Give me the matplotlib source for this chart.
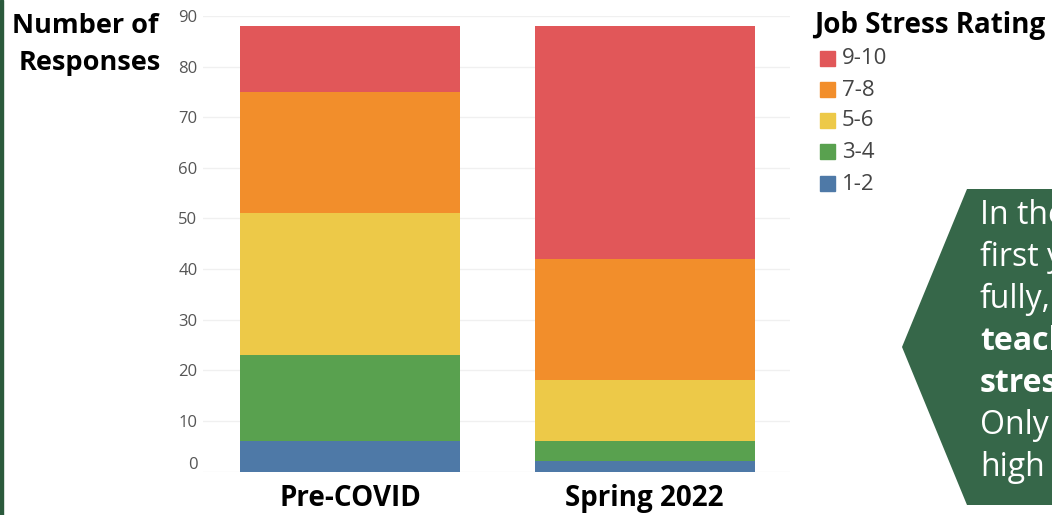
import matplotlib
matplotlib.use("Agg")
import matplotlib.pyplot as plt
from matplotlib.patches import Polygon, Rectangle
from matplotlib.transforms import ScaledTranslation
import numpy as np

categories = ["Pre-COVID", "Spring 2022"]
ratings = ["1-2", "3-4", "5-6", "7-8", "9-10"]
vals_1_2 = [6, 2]
vals_3_4 = [17, 4]
vals_5_6 = [28, 12]
vals_7_8 = [24, 24]
vals_9_10 = [13, 46]
colors = {"1-2": "#4E79A7", "3-4": "#59A14F", "5-6": "#EDC948",
          "7-8": "#F28E2B", "9-10": "#E15759"}
yticks = list(range(0, 100, 10))

series = {"1-2": vals_1_2, "3-4": vals_3_4, "5-6": vals_5_6,
          "7-8": vals_7_8, "9-10": vals_9_10}

W, H = 1052, 515
fig = plt.figure(figsize=(W / 100, H / 100), dpi=100)
fig.patch.set_facecolor("white")

ax = fig.add_axes([203 / W, (H - 471.6) / H, (790 - 203) / W, (471.6 - 16) / H])
x = np.arange(len(categories))
bottom = np.zeros(len(categories))
for r in ratings:
    v = np.array(series[r], dtype=float)
    ax.bar(x, v, bottom=bottom, width=0.747, color=colors[r], zorder=2,
           edgecolor="none")
    bottom += v

ax.set_xlim(-0.4992, 1.494)
ax.set_ylim(0, 90)
ax.set_yticks(yticks)
ax.set_yticklabels([str(t) for t in yticks], fontsize=12, color="#555555",
                   family="Open Sans")
ax.tick_params(axis="y", length=0, pad=4)
ax.set_xticks(x)
ax.set_xticklabels(categories, fontsize=20, fontweight="bold", color="black",
                   family="Open Sans")
ax.tick_params(axis="x", length=0, pad=9)
ax.grid(axis="y", color="#f0f0f0", lw=1, zorder=0)
ax.set_axisbelow(True)
for s in ax.spines.values():
    s.set_visible(False)
ax.set_facecolor("white")
# lift the "0" label like the reference
lbl0 = ax.get_yticklabels()[0]
lbl0.set_transform(lbl0.get_transform() + ScaledTranslation(0, 9 / 100, fig.dpi_scale_trans))

def fx(px):
    return px / W

def fy(py):
    return (H - py) / H

# y axis title
fig.text(fx(85), fy(26), "Number of", ha="center", va="center", fontsize=19.5,
         fontweight="bold", family="Open Sans")
fig.text(fx(90), fy(63), "Responses", ha="center", va="center", fontsize=19.5,
         fontweight="bold", family="Open Sans")

# legend
fig.text(fx(814), fy(26), "Job Stress Rating", ha="left", va="center",
         fontsize=20, fontweight="bold", family="Open Sans")
leg_rows = [59, 90, 121, 152, 184]
for r, yy in zip(ratings[::-1], leg_rows):
    fig.patches.append(Rectangle((fx(820), fy(yy + 7)), 15 / W, 15 / H,
                                 transform=fig.transFigure, color=colors[r]))
    fig.text(fx(842), fy(yy), r, ha="left", va="center", fontsize=16,
             color="#444444", family="Open Sans")

# callout
poly = Polygon([(fx(967), fy(189)), (fx(1060), fy(189)), (fx(1060), fy(505)),
                (fx(967), fy(505)), (fx(902), fy(347))], closed=True,
               transform=fig.transFigure, facecolor="#366749", edgecolor="none")
fig.patches.append(poly)
lines = [("In the", "normal"), ("first y", "normal"), ("fully,", "normal"),
         ("teach", "bold"), ("stres", "bold"), ("Only", "normal"), ("high", "normal")]
for i, (t, w) in enumerate(lines):
    fig.text(fx(980), fy(224 + 42 * i), t, ha="left", va="baseline",
             fontsize=23, color="white", fontweight=w, family="Open Sans")

# left edge strip
fig.patches.append(Rectangle((0, 0), 3 / W, 1, transform=fig.transFigure,
                             color="#2b5a3c"))

fig.savefig("out.png", dpi=100)
